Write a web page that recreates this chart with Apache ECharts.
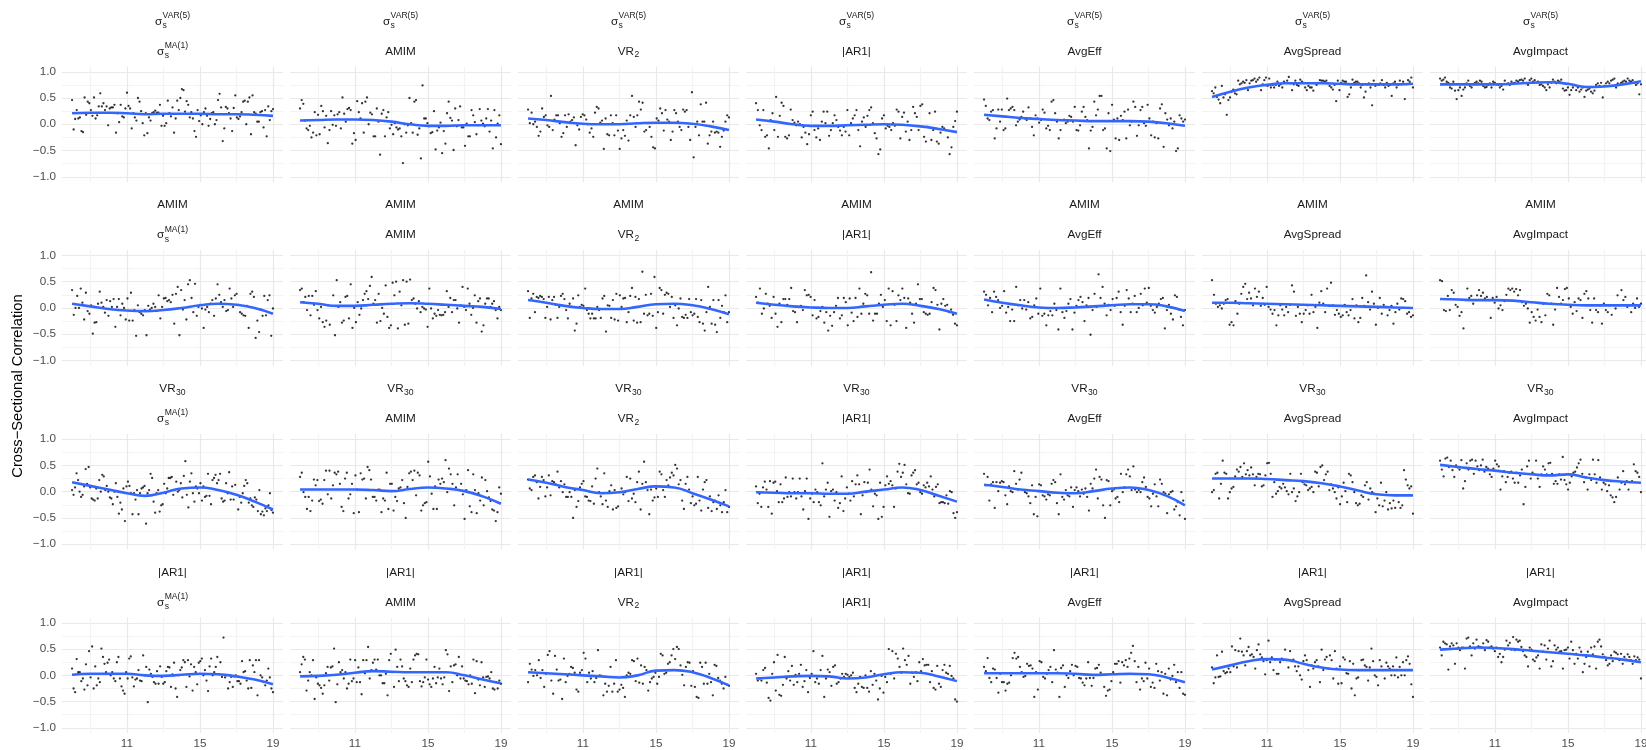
<!DOCTYPE html>
<html><head><meta charset="utf-8">
<script src="https://cdn.jsdelivr.net/npm/echarts@6/dist/echarts.min.js"></script>
<style>html,body{margin:0;padding:0;background:#fff}#c{width:1646px;height:750px}</style>
</head><body><div id="c"></div>
<script>
// ---- labels & ticks ----
const rowLabels = [{t:'σ',sub:'s',sup:'VAR(5)'},{t:'AMIM'},{t:'VR',sub:'30'},{t:'|AR1|'}];
const colLabels = [{t:'σ',sub:'s',sup:'MA(1)'},{t:'AMIM'},{t:'VR',sub:'2'},{t:'|AR1|'},{t:'AvgEff'},{t:'AvgSpread'},{t:'AvgImpact'}];
const yTitle = 'Cross\u2212Sectional Correlation';
const xGridVals = [9,11,13,15,17,19];
const xLabelVals = [11,15,19];
const yGridVals = [-1,-0.75,-0.5,-0.25,0,0.25,0.5,0.75,1];
const yLabelVals = [-1,-0.5,0,0.5,1];
const xStart = 8, xEnd = 19;
const smoothX = [8,9,10,11,12,13,14,15,16,17,18,19];

// ---- points (hundredths), in time order ----
const pts_r1c1 = [46,-10,10,27,11,13,-13,-15,51,18,43,40,27,16,51,11,17,34,59,34,40,27,34,-2,30,32,32,37,-16,21,4,37,15,13,30,60,35,30,-8,21,13,7,50,43,25,2,-21,21,-17,13,7,21,23,26,22,22,37,-3,16,-3,2,45,21,15,32,-16,11,45,27,50,67,65,24,44,37,13,23,11,-13,-24,27,6,17,0,23,30,16,-3,10,21,23,0,8,46,58,32,-32,-8,33,30,21,11,-13,31,55,13,10,15,23,43,45,0,43,51,-19,55,23,20,5,5,23,25,-6,27,-23,34,8,25,29];
const pts_r1c2 = [30,46,39,7,-8,-11,-3,-25,-16,23,-21,18,-19,35,25,-6,16,-36,-11,25,-1,17,-3,19,23,-8,51,20,5,29,31,27,-37,-17,-30,44,23,11,40,-16,43,51,0,22,19,-23,-23,30,5,-58,20,27,-23,13,23,-8,-1,-19,2,-6,-10,-8,-23,-74,0,-16,-2,50,2,-16,43,46,-20,-8,-65,74,11,11,2,-4,-17,-15,25,-48,-12,-6,3,-55,-13,-37,21,43,12,7,-49,30,-4,8,34,-6,-6,-41,1,-23,-23,27,17,4,-19,-2,29,7,1,-4,11,29,-14,7,-46,27,-25,1,17,-38];
const pts_r1c3 = [28,2,22,0,5,-5,-22,-14,30,14,17,-2,-5,54,-11,9,17,17,2,-24,-17,17,-5,19,5,8,13,-40,-2,-10,14,19,17,9,0,-16,-8,-24,22,33,30,3,7,-47,11,-19,-21,17,2,-21,17,-12,-47,-27,-11,-22,7,-31,17,54,14,-5,17,43,28,41,-14,-11,2,-5,-24,-44,-46,11,7,30,21,-12,27,9,5,-30,-14,27,21,5,-5,-11,28,24,27,-5,-30,61,-63,-5,5,-21,38,5,5,41,-37,-21,-14,5,-16,-14,-16,-43,-24,-12,5,17,13];
const pts_r1c4 = [40,27,-2,-11,27,-24,-21,-46,8,21,-11,52,-24,16,41,35,-24,-27,-21,28,8,3,-2,5,0,-25,-5,-16,-38,-19,17,24,-11,-25,-8,-30,5,24,2,24,-22,-11,2,17,8,-5,-12,-21,-5,-14,27,-21,2,11,17,27,-11,-42,5,13,-5,16,27,32,2,-17,-27,-57,-48,11,17,-8,-3,-5,-11,2,-3,28,24,-27,14,22,-14,5,-30,-11,33,21,14,-11,35,38,-24,-33,-5,21,-30,-11,24,-33,-37,-16,-5,-8,-11,-25,-57,-44,-5,6,24];
const pts_r1c5 = [47,35,11,8,24,27,-27,-8,28,5,28,-11,-8,49,27,30,33,27,-2,5,9,14,24,11,8,32,11,-5,-21,17,11,3,8,28,22,-8,-3,-11,43,46,21,5,-27,-11,8,9,2,5,16,14,5,33,-11,-12,-2,24,33,14,8,-46,-12,-5,43,17,28,54,54,-11,-8,-46,21,-51,37,9,-27,11,-30,16,8,24,-27,28,-2,5,43,33,-22,-2,27,33,2,-3,37,11,-21,5,-25,2,-27,30,38,-43,21,9,-2,11,-8,5,-51,-46,17,11,5,9];
const pts_r1c6 = [63,59,70,52,47,40,73,51,57,18,46,51,62,66,59,57,83,76,78,81,79,84,65,78,83,84,87,81,85,89,65,76,84,89,73,87,70,75,70,75,81,73,76,70,81,79,83,90,78,65,76,83,75,73,85,81,79,70,65,73,70,70,64,78,75,79,84,83,83,81,83,78,73,70,66,75,44,83,65,79,83,81,81,52,57,70,85,79,81,81,78,70,75,51,62,76,78,70,36,83,73,76,75,78,84,75,70,79,73,75,54,78,81,70,75,83,76,81,48,76,84,81,89,70];
const pts_r1c7 = [87,83,85,89,81,79,70,68,81,64,48,65,70,54,66,70,78,83,73,70,76,79,81,78,83,81,73,70,71,75,78,70,81,79,76,75,70,73,66,83,76,78,75,81,78,79,83,81,84,85,83,87,78,75,84,87,81,84,79,81,75,76,73,70,65,76,70,79,85,81,78,83,81,85,68,64,65,70,56,65,70,75,65,70,62,66,70,52,64,66,68,62,59,64,75,78,73,79,51,73,78,81,78,83,85,87,70,78,75,79,81,83,81,87,83,81,84,79,75,78,57,76];
const pts_r2c1 = [34,-13,0,23,0,37,10,-22,29,-6,-11,5,-49,-28,-27,8,31,10,2,-9,15,-15,13,2,17,-36,2,17,-14,8,0,-22,18,-24,29,-24,-4,-53,5,-8,-11,-14,-4,-52,4,-3,0,8,2,-6,24,-20,2,18,19,13,15,11,25,-30,27,40,-52,34,-3,15,-22,45,53,19,-8,46,-15,2,6,-1,-38,-3,2,-8,8,15,-15,18,45,25,11,2,15,-6,-4,37,18,2,24,27,6,-8,-11,-14,-15,4,-38,27,31,21,-57,-24,-46,-3,-15,23,-14,15,24,-53,-1];
const pts_r2c2 = [34,37,11,21,-4,23,-14,23,6,32,-4,-20,2,-27,-36,-24,5,-32,4,24,-52,53,2,11,-28,-24,21,23,-20,45,-38,0,-27,11,-13,-1,15,27,32,17,42,59,8,15,-28,27,-25,0,-11,43,-17,-38,-33,48,24,50,-39,31,5,53,-32,50,-30,54,15,18,8,-1,13,-8,2,-1,-3,-36,37,-1,-20,-11,-15,-4,-13,-14,-13,-8,32,2,19,-8,15,15,-1,-28,5,40,2,-4,37,8,-13,0,24,-28,13,18,-45,-33,8,18,18,2,8,13,-4,-20,2,-4];
const pts_r2c3 = [32,-19,18,27,-8,21,19,23,21,17,-19,2,21,-22,15,21,6,-19,2,23,27,17,-4,-20,8,2,18,-43,-30,24,2,6,4,37,-4,-11,-20,-11,-20,-20,2,-4,-19,18,23,-45,5,4,-19,15,-22,27,-24,24,2,18,19,-27,-8,23,38,-24,21,-28,17,-27,69,-11,25,-14,-11,27,-15,59,-38,-8,38,34,-11,25,29,27,2,21,-19,5,-33,-1,18,-17,-19,-13,-19,17,-8,-14,-11,17,-17,-27,15,-30,-43,-8,40,2,-30,15,-32,-46,15,-19,4,-8,24,-27,-8];
const pts_r2c4 = [21,10,37,-11,-1,27,8,4,-19,21,-11,-36,8,-27,17,17,6,17,38,-6,-8,-27,2,4,-4,34,24,25,21,-14,15,-20,-17,-6,2,-28,-8,-43,-15,-34,-8,4,19,-20,-14,19,11,-33,18,-9,-25,19,-17,37,-11,8,27,24,-11,68,-24,-11,-11,8,25,2,15,-25,37,-33,32,6,-25,24,15,37,19,-38,18,10,-11,-28,8,45,17,17,-8,-11,-13,-11,11,38,34,6,-41,8,17,4,6,-8,-3,-13,-30,-33];
const pts_r2c5 = [31,25,5,19,-8,31,21,15,0,4,32,-9,2,-25,-3,-25,40,5,15,-1,15,-3,11,-20,-17,5,18,-11,37,-15,-11,-33,-14,-6,-14,8,-4,-41,37,-8,-19,-6,8,17,-41,-9,4,15,21,11,-25,5,19,-51,-4,27,2,64,19,40,8,-14,6,-4,17,4,19,31,-8,-32,4,34,18,-8,8,23,-8,0,27,5,37,10,38,4,-4,-9,2,8,17,19,-39,-4,6,-11,-22,24,21,-3,-17,-33,-4];
const pts_r2c6 = [53,25,8,2,5,-1,8,15,17,-32,-27,-33,13,-11,8,27,40,46,17,29,18,5,37,21,31,4,19,6,40,2,-3,-11,-4,-33,-14,5,-3,-14,2,-8,6,43,31,-15,2,-11,-27,-11,-4,5,-11,25,-8,2,-38,10,32,8,-8,37,4,48,5,-13,-4,-11,-17,-14,6,-8,-14,-4,17,-20,5,-27,-19,19,4,62,11,-3,31,8,-32,0,19,-11,6,2,-14,-4,4,-30,-8,8,-3,18,17,13,-11,-8,-17,-14];
const pts_r2c7 = [53,51,-4,-6,23,-4,34,29,6,2,-15,-8,-39,15,37,19,23,8,15,24,34,23,29,18,21,15,-19,19,10,21,-1,5,-4,13,25,37,34,37,31,36,24,34,11,4,8,-1,-28,-8,-17,-24,-3,-17,-27,8,-14,27,24,8,-32,-3,38,21,8,15,36,38,18,2,-11,11,-6,18,15,-19,27,32,18,-4,-28,18,-4,-8,5,-30,8,-4,-8,5,-13,5,-1,24,5,34,15,21,2,5,-8,8,0,18,2,8];
const pts_r3c1 = [3,-6,8,35,22,0,-10,-6,10,43,15,47,8,-13,-15,-17,6,-13,22,0,32,29,3,11,0,-11,-13,-24,0,16,-10,-42,-21,-34,6,-56,10,19,11,-3,-43,-3,-15,3,-43,-3,6,8,11,-61,-3,3,34,26,-19,-40,-3,3,-38,-26,-24,15,-3,6,26,26,28,-6,3,19,0,3,16,-11,30,58,-6,-30,19,35,-3,-19,10,6,-3,16,-17,10,-10,-8,34,-8,-24,22,26,32,16,22,34,-13,-19,-17,16,-3,37,-15,10,-15,13,-6,-34,-10,-21,-3,11,22,16,-21,-13,-26,-29,-11,-15,-37,3,-43,-38,-45,-32,-37,-26,-3,-35,-40];
const pts_r3c2 = [28,36,-1,-10,-33,-10,-37,-17,23,12,22,-18,-15,-23,22,40,-5,40,-13,12,36,33,38,15,-29,-37,25,36,-13,-5,15,-41,31,4,-39,35,23,25,-13,47,41,23,-10,-10,-17,4,4,-39,-13,-17,36,-33,15,15,-36,-10,-18,6,8,22,-22,-50,9,35,38,22,40,-7,36,31,-36,-26,-22,-20,57,29,-4,-33,10,-33,23,15,25,18,60,-1,44,33,15,-26,8,33,3,15,-5,-52,3,41,-28,-39,33,3,-41,-3,-17,27,-26,22,1,-11,-18,-34,-36,-56,-39,8,-4];
const pts_r3c3 = [23,6,3,28,31,18,-13,9,28,22,-9,8,31,-7,20,18,14,38,8,20,-1,14,-10,-10,-1,-10,-50,3,-29,-18,8,15,20,-9,-10,-17,-18,10,-23,25,44,-1,-9,-24,35,-17,-29,1,12,-34,3,-31,-28,-1,6,-5,-1,28,-18,25,-13,-4,-20,18,38,-34,15,57,18,3,-43,4,-17,-11,6,-10,38,33,3,-10,22,12,27,36,31,51,44,14,22,-17,-33,15,28,4,-22,-9,-26,-23,28,-17,-36,4,18,22,-31,-9,-37,-20,-17,-33,-7,-26,-39,-20,3,-39,-29];
const pts_r3c4 = [10,-22,-4,-29,8,19,4,-29,20,-42,17,19,1,-20,14,-20,-13,27,-10,-1,-9,25,-1,-13,-1,25,-9,-34,1,25,-52,-13,-4,-20,4,-1,-20,-26,54,-9,4,17,-48,1,4,-17,-1,-31,-22,29,-37,-13,8,-4,-17,20,-9,14,31,14,-43,-7,18,-1,17,42,4,-28,-4,-7,-52,17,-48,-29,12,29,15,20,12,-29,6,38,53,28,36,51,14,-3,-4,31,36,41,14,17,-1,-4,12,8,17,10,29,4,-9,9,14,-22,-20,-20,-22,-7,-23,1,-1,-41,-50,-39];
const pts_r3c5 = [34,12,28,-17,14,18,-31,18,1,17,20,18,-7,-24,10,1,-1,39,15,4,23,36,3,-1,-3,-9,-22,12,-43,-10,-47,14,12,-7,-9,-15,-5,-7,15,22,18,-22,-43,33,-10,-15,3,-7,-9,8,-29,3,8,1,-9,4,-4,6,-10,-36,15,6,25,42,-13,28,23,-26,-50,22,20,-26,1,4,-13,-10,-20,34,-1,8,33,42,29,3,48,4,-1,3,-1,18,27,9,-10,-13,-28,-4,14,-9,-28,23,15,-1,-4,-41,-5,-1,1,-34,-28,-20,-45,-1,-17,-52];
const pts_r3c6 = [-1,3,34,36,-13,15,59,36,34,-13,-1,6,9,29,42,38,47,28,54,33,41,31,46,33,12,28,34,33,10,12,31,54,55,34,-10,18,-4,1,9,6,15,8,1,-5,34,-1,6,-18,-9,-1,34,18,14,12,3,6,9,-1,38,36,10,47,50,22,33,38,3,14,6,-1,-13,8,-24,-9,17,1,-20,34,31,18,-1,-22,-26,-23,-7,-10,12,18,-15,6,-1,-4,-39,-13,-26,17,-28,-17,-1,-34,-22,-32,-17,-31,-7,-20,-31,-26,41,23,12,6,10,-42];
const pts_r3c7 = [59,42,29,63,65,47,59,41,28,50,46,42,60,6,20,54,42,59,61,34,59,48,41,50,61,38,47,44,33,28,44,59,52,48,4,29,39,18,28,36,38,25,17,36,17,31,42,-24,9,48,59,25,36,33,59,25,9,33,48,42,33,54,55,34,15,20,15,33,23,66,22,14,4,17,29,36,38,46,54,61,34,18,27,4,33,22,61,33,17,60,27,4,17,14,1,12,-7,-11,-20,-10,27,4,17,39,14,20,4,18,20,52,39,36,28,-1];
const pts_r4c1 = [13,-25,-32,31,6,6,-11,-6,-27,21,-19,46,-4,55,-25,17,-19,-6,-13,51,35,22,6,24,30,0,6,-6,-11,25,35,-6,-21,-29,-35,6,-6,32,36,-4,-21,-8,-6,10,-10,-11,38,0,16,-51,11,3,-3,-13,-16,8,-16,17,-3,-16,-13,8,16,15,-22,2,24,-25,-41,0,10,15,29,25,-22,29,-2,21,-29,16,6,-17,24,27,32,0,10,-10,-30,17,32,0,6,16,35,2,25,-3,72,-4,0,-25,-13,-3,-22,-2,0,-11,-11,-16,27,6,8,-10,-25,29,-24,19,6,29,-38,29,0,-4,-13,-19,-10,13,-4,-25,-32];
const pts_r4c2 = [6,21,35,30,-29,-10,6,0,29,-45,-4,-16,-19,-24,-35,-19,4,16,-10,15,17,51,-51,-17,25,6,10,-6,6,-25,-16,30,-11,-6,29,-13,15,-13,-36,29,4,29,54,-6,10,24,30,11,30,0,0,-15,-15,3,-38,29,41,6,-22,49,16,-11,30,17,-6,-11,-19,-22,13,-13,30,38,41,40,-11,-21,-13,-4,30,-8,-17,-22,-6,16,-15,-4,13,-6,-17,-4,48,40,-30,17,-13,19,21,0,35,-6,17,-6,-10,-11,-17,0,-16,30,-34,27,-8,-19,25,-4,-22,-3,-2,-6,6,-25,-27,-13,-25,-10,-16];
const pts_r4c3 = [-13,22,11,-1,10,0,29,-5,10,-22,3,39,46,-10,-35,37,11,-10,-8,-45,32,-13,-1,3,16,14,5,-27,-31,5,10,43,32,-13,5,-6,8,-13,-5,48,0,-1,-38,-16,-31,-20,16,-31,-16,29,-31,-27,-18,-24,-41,0,5,3,29,27,-11,32,-14,19,-16,16,10,-29,-13,-6,-3,5,-16,-3,41,38,3,5,22,25,38,50,31,54,50,19,1,-19,16,25,24,-20,8,-22,-41,-43,24,16,-16,24,-16,3,-13,-38,20,18,-5,-10,-16,-25,-3,-18,-20];
const pts_r4c4 = [3,-10,-6,-10,10,14,-14,-43,-48,3,25,-29,39,-37,-39,-18,35,-6,8,-10,18,-18,1,-13,3,20,-22,-11,10,-32,-5,3,46,-13,-6,-16,10,37,-41,-6,11,6,-20,16,19,-16,-13,-6,3,-3,3,1,-3,0,5,-24,-32,-16,-3,-22,-24,0,-24,-31,8,-18,3,-10,-46,-25,-1,-33,-3,-13,50,3,46,-6,41,32,16,5,51,29,20,37,-16,5,-3,6,-11,25,8,31,19,20,20,-13,8,-24,-27,18,-16,-22,10,20,5,3,18,-1,-6,-46,-50];
const pts_r4c5 = [16,8,33,-5,-13,13,11,-5,-33,3,-13,-13,-29,-16,-14,0,33,43,32,35,16,6,-3,-1,22,18,19,13,-41,6,-27,27,25,-3,-6,3,10,16,-13,48,11,5,-41,14,19,-22,0,-5,8,20,0,18,16,-5,-6,-14,-19,-6,25,-5,-20,-5,13,14,20,5,1,-22,-39,-29,-27,-11,6,22,22,27,-14,25,19,29,16,32,43,56,27,-13,16,-27,-6,-11,24,-6,13,-22,-14,-24,22,8,-10,6,-35,3,-38,13,-8,-1,20,-13,6,-24,6,-35,-37];
const pts_r4c6 = [15,-15,-4,38,-3,-2,45,8,4,6,13,6,55,17,48,15,46,70,45,38,19,46,54,38,40,35,13,48,59,40,34,27,2,29,66,25,34,10,30,3,3,25,32,29,49,29,15,46,27,30,17,8,17,0,-8,27,38,29,10,-22,19,13,25,29,17,-13,49,10,30,35,13,38,29,-6,46,13,-16,17,-15,34,30,4,3,27,-25,22,-38,-6,-4,10,29,30,19,16,-10,15,51,27,0,-3,-19,29,17,10,-6,24,17,13,0,17,0,34,-4,16,0,25,0,29,36,22,-17,-41];
const pts_r4c7 = [53,38,64,61,59,11,55,61,57,22,61,53,48,53,53,13,70,72,55,38,61,51,68,55,54,53,61,48,67,64,53,55,51,46,53,35,41,25,35,49,66,57,62,49,73,48,68,64,66,54,46,38,35,17,53,49,30,27,34,38,13,59,45,57,30,51,66,17,27,57,49,53,45,46,13,48,49,53,32,64,48,22,41,32,53,45,6,22,35,45,17,53,40,55,13,64,68,55,40,35,29,19,22,38,27,45,43,40,29,41,22,35,30,40,35,29,22,36,29,34,30,-6];

// ---- smooth fit values (hundredths) at smoothX ----
const sm_r1c1 = [21,22,22,21,19,20,20,20,19,19,18,16];
const sm_r1c2 = [7,8,9,9,8,5,0,-3,-3,-2,-2,-2];
const sm_r1c3 = [11,8,4,1,0,0,2,3,3,1,-4,-11];
const sm_r1c4 = [9,5,0,-3,-3,-2,-1,0,-1,-4,-9,-15];
const sm_r1c5 = [18,15,12,10,8,7,6,6,6,5,2,-3];
const sm_r1c6 = [52,62,70,75,78,78,78,77,76,76,76,77];
const sm_r1c7 = [76,76,76,76,77,79,80,77,71,72,76,82];
const sm_r2c1 = [8,3,-2,-5,-6,-4,0,5,8,6,0,-11];
const sm_r2c2 = [11,8,4,4,6,8,9,8,6,4,2,-2];
const sm_r2c3 = [15,10,4,0,-2,-2,2,7,8,5,-2,-12];
const sm_r2c4 = [10,6,3,1,0,0,3,6,8,4,-2,-11];
const sm_r2c5 = [16,10,5,1,0,1,3,5,7,7,3,-6];
const sm_r2c6 = [10,10,9,8,7,6,5,4,3,2,1,0];
const sm_r2c7 = [17,16,15,15,14,11,8,6,5,5,5,5];
const sm_r3c1 = [18,11,4,-3,-8,-2,6,8,3,-6,-19,-34];
const sm_r3c2 = [4,4,4,4,3,1,5,8,6,1,-9,-23];
const sm_r3c3 = [23,17,9,3,-3,-1,5,10,8,-3,-15,-28];
const sm_r3c4 = [-1,-2,-3,-3,-4,-4,0,4,8,3,-8,-19];
const sm_r3c5 = [13,9,4,1,-2,-3,1,6,8,3,-8,-26];
const sm_r3c6 = [25,25,25,24,22,20,16,10,2,-5,-7,-7];
const sm_r3c7 = [51,47,43,40,36,33,31,33,27,22,19,17];
const sm_r4c1 = [1,3,3,3,0,-1,1,3,2,-2,-8,-17];
const sm_r4c2 = [-2,-1,1,5,8,7,6,6,6,0,-8,-15];
const sm_r4c3 = [6,4,2,0,-2,-4,0,9,10,6,-5,-19];
const sm_r4c4 = [-6,-4,-2,-1,-2,-6,-4,2,6,5,-2,-11];
const sm_r4c5 = [4,4,4,4,4,3,1,2,3,2,-4,-13];
const sm_r4c6 = [11,19,27,31,30,22,15,11,10,10,10,10];
const sm_r4c7 = [49,51,53,52,50,47,44,41,38,34,30,25];

const panels = [
  [pts_r1c1,sm_r1c1],[pts_r1c2,sm_r1c2],[pts_r1c3,sm_r1c3],[pts_r1c4,sm_r1c4],[pts_r1c5,sm_r1c5],[pts_r1c6,sm_r1c6],[pts_r1c7,sm_r1c7],
  [pts_r2c1,sm_r2c1],[pts_r2c2,sm_r2c2],[pts_r2c3,sm_r2c3],[pts_r2c4,sm_r2c4],[pts_r2c5,sm_r2c5],[pts_r2c6,sm_r2c6],[pts_r2c7,sm_r2c7],
  [pts_r3c1,sm_r3c1],[pts_r3c2,sm_r3c2],[pts_r3c3,sm_r3c3],[pts_r3c4,sm_r3c4],[pts_r3c5,sm_r3c5],[pts_r3c6,sm_r3c6],[pts_r3c7,sm_r3c7],
  [pts_r4c1,sm_r4c1],[pts_r4c2,sm_r4c2],[pts_r4c3,sm_r4c3],[pts_r4c4,sm_r4c4],[pts_r4c5,sm_r4c5],[pts_r4c6,sm_r4c6],[pts_r4c7,sm_r4c7]
];

// ---- layout ----
const FONT = '"Liberation Sans", Arial, Helvetica, sans-serif';
const L0 = 62, PW = 221, GX = 7, T0 = 66.5, PH = 115.5, RS = 183.7;
const XMIN = 7.45, XMAX = 19.55, YMIN = -1.1, YMAX = 1.1;
const MAJOR = '#e9e9e9', MINOR = '#f3f3f3';

const mctx = document.createElement('canvas').getContext('2d');
function tw(s, size) { mctx.font = size + 'px ' + FONT; return mctx.measureText(s).width; }
function txt(s, x, y, size, fill) {
  return {type:'text', x:x, y:y, silent:true, z:10,
    style:{text:s, fontSize:size, fontFamily:FONT, fill:fill||'#1a1a1a',
      textAlign:'left', textVerticalAlign:'middle', align:'left', verticalAlign:'middle'}};
}
function labelEls(lab, cx, cy) {
  const MS = 11.7, SS = 8.6;
  const out = [];
  const wm = tw(lab.t, MS);
  const ws = lab.sub ? tw(lab.sub, SS) : 0;
  const wu = lab.sup ? tw(lab.sup, SS) : 0;
  const total = wm + Math.max(ws, wu) + (lab.sub || lab.sup ? 0.5 : 0);
  const x0 = cx - total / 2;
  out.push(txt(lab.t, x0, cy, MS));
  if (lab.sup) out.push(txt(lab.sup, x0 + wm + 0.5, cy - 6, SS));
  if (lab.sub) out.push(txt(lab.sub, x0 + wm + 0.5, cy + (lab.sup ? 4 : 3.5), SS));
  return out;
}
function fmtY(v) { return (v < 0 ? '\u2212' : '') + Math.abs(v).toFixed(1); }

const grids = [], xAxes = [], yAxes = [], series = [], graphics = [];
for (let r = 0; r < 4; r++) {
  for (let c = 0; c < 7; c++) {
    const i = r * 7 + c;
    const left = L0 + c * (PW + GX), top = T0 + r * RS;
    grids.push({left:left, top:top, width:PW, height:PH, containLabel:false, outerBoundsMode:'none'});
    xAxes.push({gridIndex:i, type:'value', min:XMIN, max:XMAX,
      axisLine:{show:false}, axisTick:{show:false, customValues:xGridVals},
      splitLine:{show:true, lineStyle:{color:[MINOR, MAJOR], width:1.2}},
      axisLabel:{show:r === 3, customValues:xLabelVals, margin:5, fontSize:11.7, color:'#4d4d4d', fontFamily:FONT}});
    yAxes.push({gridIndex:i, type:'value', min:YMIN, max:YMAX,
      axisLine:{show:false}, axisTick:{show:false, customValues:yGridVals},
      splitLine:{show:true, lineStyle:{color:[MAJOR, MINOR], width:1.2}},
      axisLabel:{show:c === 0, customValues:yLabelVals, margin:6, fontSize:11.7, color:'#4d4d4d', fontFamily:FONT, formatter:fmtY}});
    const ys = panels[i][0], sm = panels[i][1];
    const n = ys.length;
    series.push({type:'scatter', xAxisIndex:i, yAxisIndex:i, silent:true, z:2,
      symbolSize:2.3, itemStyle:{color:'#000'},
      data: ys.map((v, k) => [xStart + (xEnd - xStart) * k / (n - 1), v / 100])});
    series.push({type:'line', xAxisIndex:i, yAxisIndex:i, silent:true, z:3,
      smooth:0.5, showSymbol:false, symbol:'none',
      lineStyle:{color:'#3366FF', width:2.6},
      data: smoothX.map((x, k) => [x, sm[k] / 100])});
    const cx = left + PW / 2;
    graphics.push(...labelEls(rowLabels[r], cx, top - 45));
    graphics.push(...labelEls(colLabels[c], cx, top - 15));
  }
}
graphics.push({type:'text', x:18, y:386, rotation:Math.PI / 2, silent:true,
  style:{text:yTitle, fontSize:14.7, fontFamily:FONT, fill:'#000',
    textAlign:'center', textVerticalAlign:'middle', align:'center', verticalAlign:'middle'}});

const chart = echarts.init(document.getElementById('c'), null, {renderer:'canvas', width:1646, height:750});
chart.setOption({
  animation:false, backgroundColor:'#fff',
  grid:grids, xAxis:xAxes, yAxis:yAxes, series:series, graphic:{elements:graphics}
});
</script>
</body></html>
